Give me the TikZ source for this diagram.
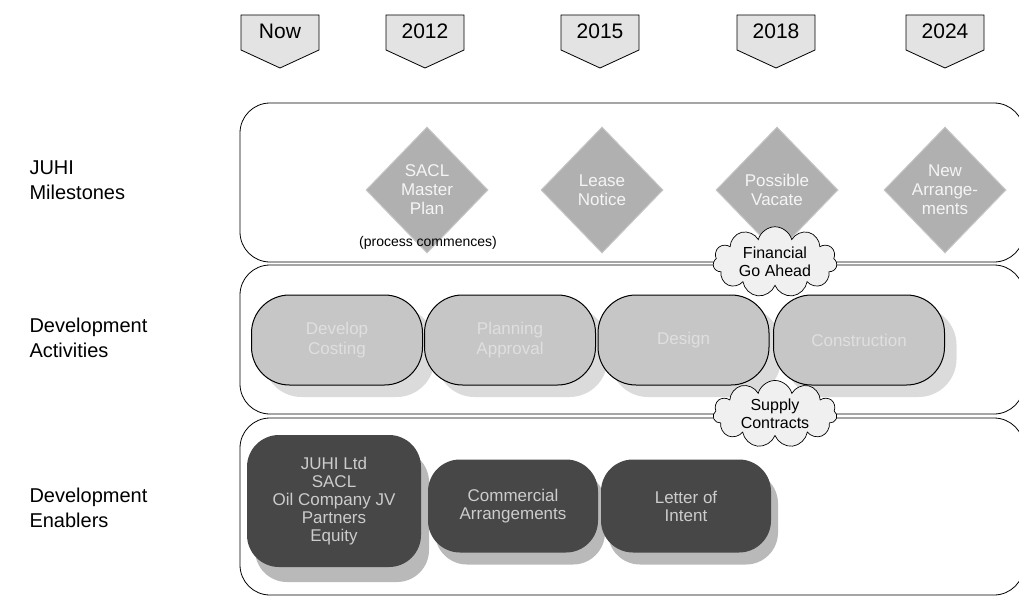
\documentclass[tikz,border=0pt]{standalone}
\usepackage{fontspec}
\setmainfont{Liberation Sans}
\usetikzlibrary{shapes.geometric,shapes.symbols}
\begin{document}
\begin{tikzpicture}[x=1pt,y=-1pt,
  section/.style={draw=black, line width=0.8pt, rounded corners=30pt},
  yearbox/.style={draw=black, line width=0.8pt, fill=gray!22},
  yeartext/.style={font=\fontsize{21}{23}\selectfont, text=black},
  sidelabel/.style={anchor=west, align=left, font=\fontsize{20}{25}\selectfont},
  mile/.style={diamond, aspect=1, draw=gray!45, line width=1pt, fill=gray!62, inner sep=0pt,
    minimum width=122pt, minimum height=126pt, align=center, text=white!92!gray,
    font=\fontsize{17}{19}\selectfont},
  actshadow/.style={fill=gray!28, rounded corners=38pt, minimum width=171pt, minimum height=90pt, inner sep=0pt},
  actbox/.style={draw=black, line width=1pt, fill=gray!45, rounded corners=38pt, minimum width=171pt,
    minimum height=90pt, inner sep=0pt, align=center, text=white!75!gray, font=\fontsize{17}{20}\selectfont},
  enshadow/.style={fill=gray!55, rounded corners=32pt, inner sep=0pt},
  enbox/.style={fill=black!72, rounded corners=32pt, inner sep=0pt, align=center, text=gray!40,
    font=\fontsize{17}{18}\selectfont},
  note/.style={cloud, cloud puffs=11, aspect=2.1, draw=black, line width=0.7pt, fill=gray!12, inner sep=1pt,
    minimum width=124pt, minimum height=58pt, align=center, font=\fontsize{16}{18}\selectfont}
]
\useasboundingbox (0,0) rectangle (1019,599);

% section frames
\draw[section] (240,103) rectangle (1024,262);
\draw[section] (240,265) rectangle (1024,414);
\draw[section] (240,418) rectangle (1024,595);

% side labels
\node[sidelabel] (lab1) at (26,180) {JUHI\\Milestones};
\node[sidelabel] (lab2) at (26,338) {Development\\Activities};
\node[sidelabel] (lab3) at (26,508) {Development\\Enablers};

% year markers
\foreach \x/\t/\n in {280/Now/ynow, 425/2012/y12, 600/2015/y15, 776/2018/y18, 945/2024/y24}{
  \draw[yearbox] (\x-39,15) -- (\x+39,15) -- (\x+39,50) -- (\x,68) -- (\x-39,50) -- cycle;
  \node[yeartext] (\n) at (\x,31) {\t};
}

% milestones
\node[mile] (m1) at (427,190) {SACL\\Master\\Plan};
\node[mile] (m2) at (602,190) {Lease\\Notice};
\node[mile] (m3) at (777,190) {Possible\\Vacate};
\node[mile] (m4) at (945,190) {New\\Arrange-\\ments};
\node[font=\fontsize{14}{16}\selectfont] (pc) at (428,243) {(process commences)};

% activities
\foreach \x in {337,510,683.5,859}{
  \node[actshadow] at (\x+12,352) {};
}
\node[actbox] (a1) at (337,340) {Develop\\Costing};
\node[actbox] (a2) at (510,340) {Planning\\Approval};
\node[actbox] (a3) at (683.5,340) {Design};
\node[actbox] (a4) at (859,340) {Construction};

% enablers
\node[enshadow, minimum width=174pt, minimum height=132pt] at (342,516) {};
\node[enshadow, minimum width=170pt, minimum height=93pt] at (520,518) {};
\node[enshadow, minimum width=170pt, minimum height=93pt] at (693,518) {};
\node[enbox, minimum width=174pt, minimum height=132pt] (e1) at (334,501) {JUHI Ltd\\SACL\\Oil Company JV\\Partners\\Equity};
\node[enbox, minimum width=170pt, minimum height=93pt] (e2) at (513,506) {Commercial\\Arrangements};
\node[enbox, minimum width=170pt, minimum height=93pt] (e3) at (686,506) {Letter of\\Intent};

% clouds
\node[note] (c1) at (775,262) {Financial\\Go Ahead};
\node[note] (c2) at (775,414) {Supply\\Contracts};
\end{tikzpicture}
\end{document}
